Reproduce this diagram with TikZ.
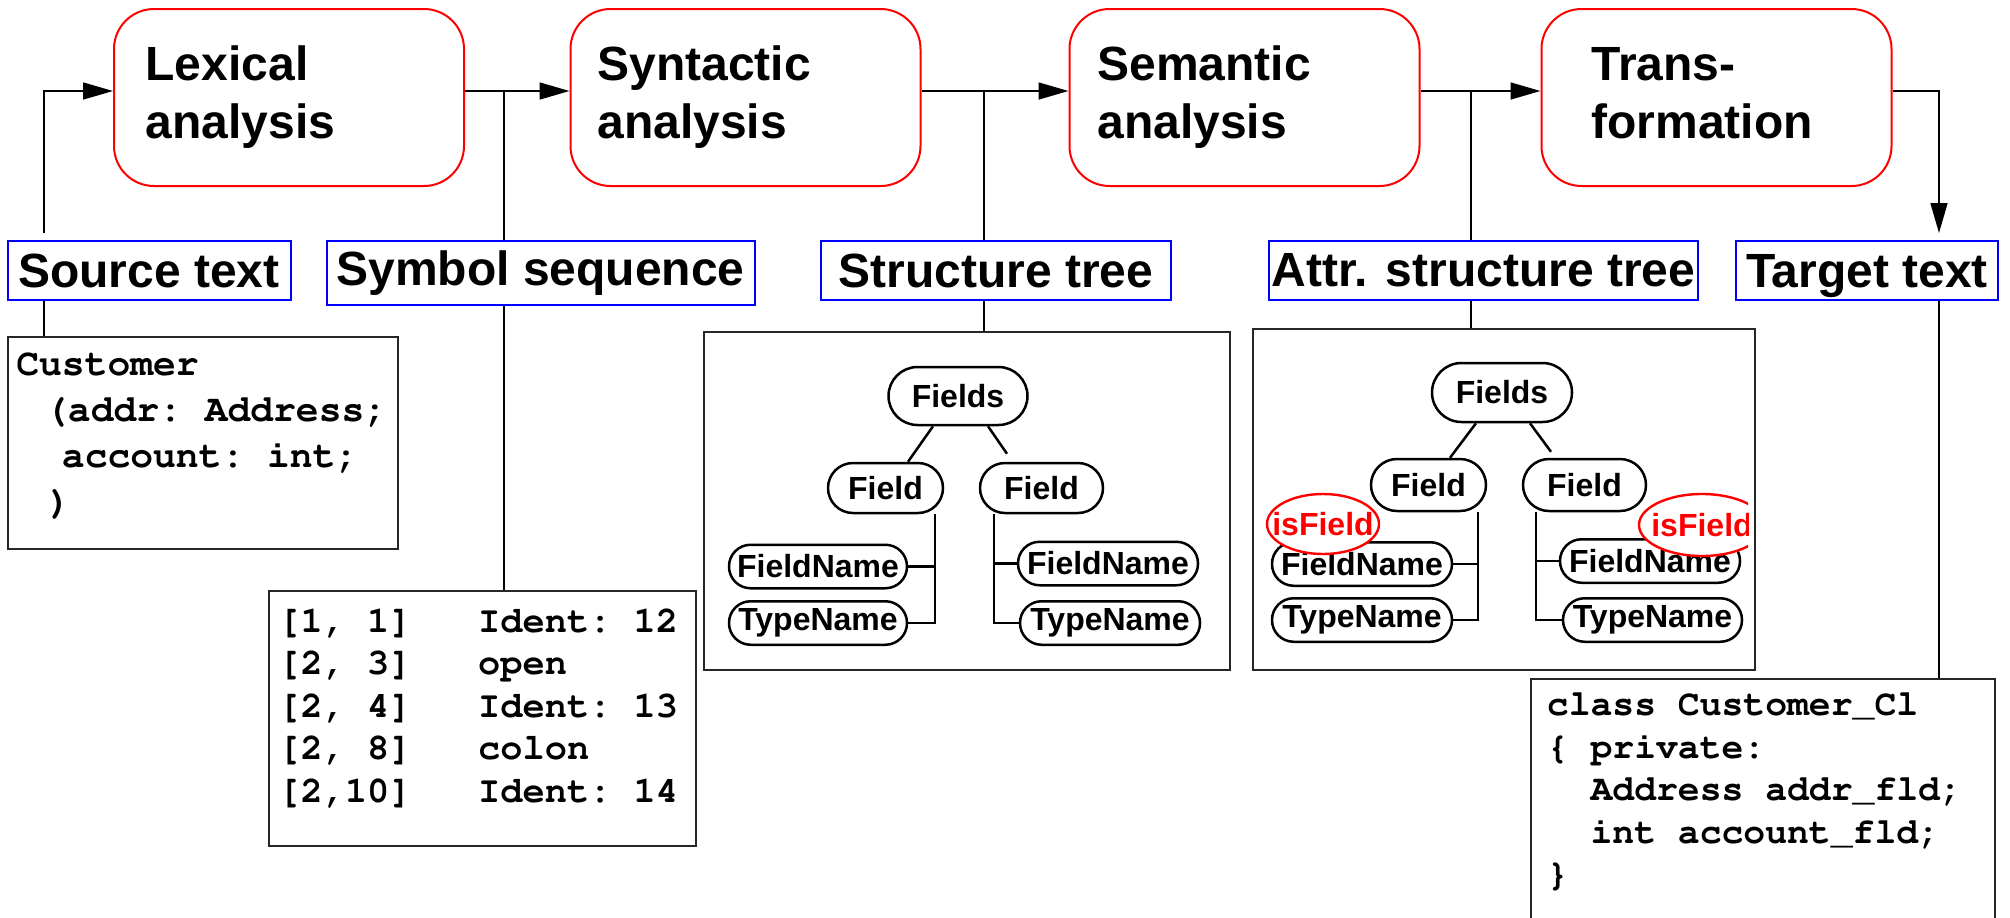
\documentclass[tikz,border=0pt]{standalone}
\usepackage[T1]{fontenc}
\usepackage{fontspec}
\setmainfont{Liberation Sans}
\newcommand\mycour{\fontencoding{T1}\fontfamily{pcr}\fontseries{b}\fontshape{n}}
\usetikzlibrary{arrows.meta,shapes.geometric}
\begin{document}
\begin{tikzpicture}[x=0.5pt,y=-0.5pt,
  stage/.style={draw=red, line width=1pt, rounded corners=20pt, minimum height=88.5pt,
    align=left, inner ysep=0pt, font=\fontsize{24pt}{29pt}\selectfont\bfseries},
  lbl/.style={draw=blue, line width=1pt, inner sep=0pt, minimum height=29.5pt,
    font=\fontsize{24pt}{29pt}\selectfont\bfseries},
  panel/.style={draw=black!85, line width=0.8pt, inner sep=0pt},
  code/.style={anchor=north west, inner sep=0pt, align=left},
  tn/.style={draw, line width=1.25pt, inner sep=0pt, fill=white,
    font=\fontsize{16pt}{18pt}\selectfont\bfseries},
  tl/.style={line width=1.25pt},
  conn/.style={line width=0.8pt},
  arr/.style={conn, -{Triangle[length=15pt,width=8.5pt]}},
  isf/.style={ellipse, draw=red, line width=1.2pt, fill=white, text=red, inner sep=0pt,
    font=\fontsize{16pt}{18pt}\selectfont\bfseries}
]
\path[use as bounding box] (0,0) rectangle (2010,917);

% ---- processing stages
\node[stage, inner xsep=15.8pt, text width=143.4pt] (lex) at (289,97.5) {Lexical\\analysis};
\node[stage, inner xsep=13.5pt, text width=148pt] (syn) at (745.5,97.5) {Syntactic\\analysis};
\node[stage, inner xsep=14pt, text width=147pt] (sem) at (1244.5,97.5) {Semantic\\analysis};
\node[stage, inner xsep=25pt, text width=125pt] (tra) at (1716.5,97.5) {Trans-\\formation\vphantom{y}};

% ---- labels
\node[lbl, minimum width=141.5pt] (srclbl) at (149,270.5) {Source text};
\node[lbl, minimum width=214pt, minimum height=32pt] (symlbl) at (540.5,273) {Symbol sequence};
\node[lbl, minimum width=175pt] (strlbl) at (996,270.5) {Structure tree};
\node[lbl, minimum width=214.5pt] (attrlbl) at (1483.5,270.5) {Attr. structure tree};
\node[lbl, minimum width=131pt, text depth=0pt] (tgtlbl) at (1867,270.5) {Target text};

% ---- panels
\node[panel, minimum width=195pt, minimum height=106pt] (srcbox) at (203,443) {};
\node[panel, minimum width=213.5pt, minimum height=127.5pt] (symbox) at (482.5,718.5) {};
\node[panel, minimum width=263pt, minimum height=169pt] (strbox) at (967,501) {};
\node[panel, minimum width=251pt, minimum height=170.5pt] (attrbox) at (1504,499.5) {};
\node[panel, minimum width=232pt, minimum height=160.5pt] (tgtbox) at (1763,839.5) {};

% ---- code texts
\node[code, font=\mycour\fontsize{19pt}{23pt}\selectfont\frenchspacing] (srccode) at (16,343.3)
  {\strut Customer\\~\hspace{3pt}(addr: Address;\\~~account: int;\\~\hspace{4.5pt})};
\node[code, font=\mycour\fontsize{18.5pt}{21.25pt}\selectfont\frenchspacing] (symcode) at (278,602.2)
  {\strut [1, 1]~~~Ident: 12\\{}[2, 3]~~~open\\{}[2, 4]~~~Ident: 13\\{}[2, 8]~~~colon\\{}[2,10]~~~Ident: 14};
\node[code, font=\mycour\fontsize{18.2pt}{21.3pt}\selectfont\frenchspacing] (tgtcode) at (1546.5,685.2)
  {\strut class Customer\_Cl\\\{ private:\\~~Address addr\_fld;\\~~int account\_fld;\\\}};

% ---- connectors
\coordinate (srcup) at (44,233);
\coordinate (tgtup) at (1939,233);
\coordinate (t1) at (504,92);
\coordinate (t2) at (984,92);
\coordinate (t3) at (1471,92);
\draw[arr] (srcup) |- ([yshift=3.25pt]lex.west);
\draw[arr] ([yshift=3.25pt]lex.east) -- ([yshift=3.25pt]syn.west);
\draw[arr] ([yshift=3.25pt]syn.east) -- ([yshift=3.25pt]sem.west);
\draw[arr] ([yshift=3.25pt]sem.east) -- ([yshift=3.25pt]tra.west);
\draw[arr] ([yshift=3.25pt]tra.east) -| (tgtup);
\draw[conn] (t1) -- (t1 |- symlbl.north);
\draw[conn] (t2) -- (t2 |- strlbl.north);
\draw[conn] (t3) -- (t3 |- attrlbl.north);
\draw[conn] (srclbl.south -| srcup) -- (srcbox.north -| srcup);
\draw[conn] (symlbl.south -| t1) -- (symbox.north -| t1);
\draw[conn] (strlbl.south -| t2) -- (strbox.north -| t2);
\draw[conn] (attrlbl.south -| t3) -- (attrbox.north -| t3);
\draw[conn] (tgtlbl.south -| tgtup) -- (tgtbox.north -| tgtup);

% ---- structure tree
\node[tn, minimum width=69.5pt, minimum height=29pt, rounded corners=14.5pt] (F0) at (958,396) {Fields};
\node[tn, minimum width=57.5pt, minimum height=25pt, rounded corners=12.5pt] (FL) at (885.5,488) {Field};
\node[tn, minimum width=61.5pt, minimum height=25pt, rounded corners=12.5pt] (FR) at (1041.5,488) {Field};
\node[tn, minimum width=89pt, minimum height=21.75pt, rounded corners=10.8pt] (FNL) at (818,566.5) {FieldName};
\node[tn, minimum width=89pt, minimum height=21.75pt, rounded corners=10.8pt] (TNL) at (818,623) {TypeName};
\node[tn, minimum width=90pt, minimum height=21.75pt, rounded corners=10.8pt] (FNR) at (1108,563.5) {FieldName};
\node[tn, minimum width=90pt, minimum height=21.75pt, rounded corners=10.8pt] (TNR) at (1110,623) {TypeName};
\draw[tl] ([xshift=-12.5pt]F0.south) -- ([xshift=11.25pt]FL.north);
\draw[tl] ([xshift=15pt]F0.south) -- ([xshift=-17.25pt,yshift=4pt]FR.north);
\coordinate (bl) at ([xshift=24.75pt]FL.south);
\coordinate (br) at ([xshift=-23.75pt]FR.south);
\draw[tl] (bl) |- (TNL.east);
\draw[tl] (FNL.east) -- (FNL.east -| bl);
\draw[tl] (br) |- (TNR.west);
\draw[tl] (FNR.west) -- (FNR.west -| br);

% ---- attributed structure tree
\begin{scope}
\clip (1256,331) rectangle (1748,668);
\node[tn, minimum width=70pt, minimum height=29.5pt, rounded corners=14.75pt] (A0) at (1502,392.5) {Fields};
\node[tn, minimum width=57.5pt, minimum height=26pt, rounded corners=13pt] (AL) at (1428.5,485) {Field};
\node[tn, minimum width=61.5pt, minimum height=26pt, rounded corners=13pt] (AR) at (1584.5,485) {Field};
\node[tn, minimum width=90pt, minimum height=21.75pt, rounded corners=10.8pt] (AFNL) at (1362,564) {FieldName};
\node[tn, minimum width=90pt, minimum height=21.75pt, rounded corners=10.8pt] (ATNL) at (1362,620) {TypeName};
\node[tn, minimum width=90pt, minimum height=21.75pt, rounded corners=10.8pt] (AFNR) at (1650,561) {FieldName};
\node[tn, minimum width=89.5pt, minimum height=21.75pt, rounded corners=10.8pt] (ATNR) at (1652.5,620) {TypeName};
\draw[tl] ([xshift=-13pt]A0.south) -- ([xshift=10.75pt]AL.north);
\draw[tl] ([xshift=14pt]A0.south) -- ([xshift=-16.75pt,yshift=3pt]AR.north);
\coordinate (abl) at ([xshift=24.75pt]AL.south);
\coordinate (abr) at ([xshift=-24.25pt]AR.south);
\draw[tl] (abl) |- (ATNL.east);
\draw[tl] (AFNL.east) -- (AFNL.east -| abl);
\draw[tl] (abr) |- (ATNR.west);
\draw[tl] (AFNR.west) -- (AFNR.west -| abr);
\node[isf, minimum width=56pt, minimum height=30pt] (isfL) at (1323,524) {\makebox[0pt]{isField}};
\node[isf, minimum width=63pt, minimum height=31pt] (isfR) at (1702,525) {\makebox[0pt]{isField}};
\end{scope}
\end{tikzpicture}
\end{document}
